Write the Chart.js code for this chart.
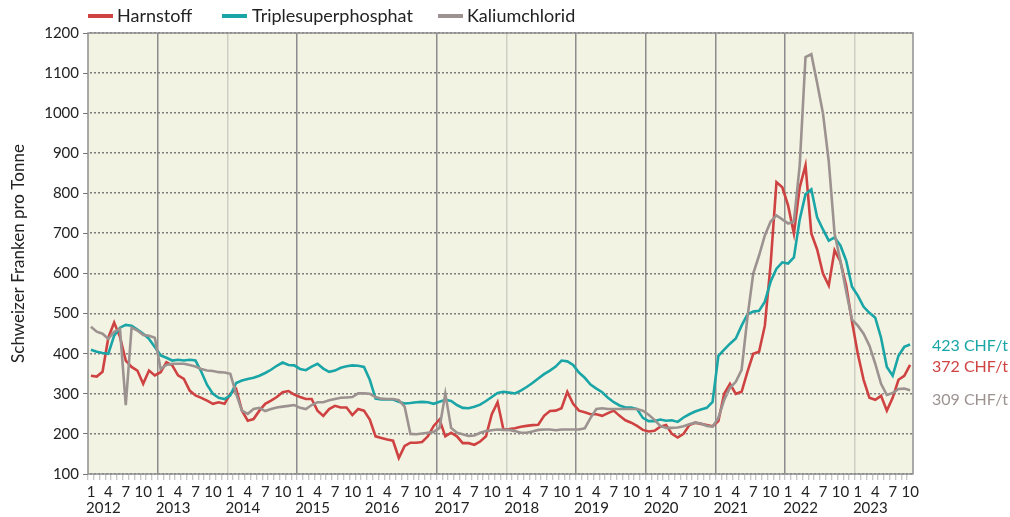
<!DOCTYPE html>
<html>
<head>
<meta charset="utf-8">
<script src="https://cdn.jsdelivr.net/npm/chart.js@4.4.1/dist/chart.umd.min.js"></script>
<style>
  html, body { margin: 0; padding: 0; background: #fff; }
  canvas { display: block; }
</style>
</head>
<body>
<canvas id="c" width="1010" height="517"></canvas>
<script>
  // ---- data (monthly, Jan 2012 .. Oct 2023, CHF per tonne) -------------
  var YEARS = [2012, 2013, 2014, 2015, 2016, 2017, 2018, 2019, 2020, 2021, 2022, 2023];
  var MONTH_LABELS = { 0: "1", 3: "4", 6: "7", 9: "10" };

  var HARNSTOFF = [
    345, 343, 355, 440, 478, 442, 383, 367, 358, 325, 358, 346,
    354, 379, 371, 346, 337, 308, 296, 290, 283, 275, 279, 275,
    300, 312, 258, 233, 237, 258, 275, 283, 292, 304, 307, 298,
    292, 287, 287, 258, 245, 262, 270, 266, 266, 247, 262, 258,
    236, 194, 190, 186, 183, 140, 170, 178, 178, 180, 194, 220,
    236, 194, 203, 194, 177, 177, 173, 181, 194, 249, 279, 211,
    212, 214, 218, 220, 222, 223, 245, 257, 258, 264, 305, 275,
    258, 254, 249, 249, 245, 252, 258, 245, 234, 228, 220, 210,
    206, 208, 218, 222, 200, 191, 200, 222, 228, 225, 222, 219,
    232, 300, 325, 300, 305, 355, 400, 405, 470, 625, 828, 815,
    770, 700, 815, 870, 700, 660, 600, 570, 658, 630, 570, 480,
    400, 335, 290, 285, 295, 258, 290, 335, 345, 372
  ];

  var TRIPLESUPER = [
    410, 405, 402, 400, 445, 465, 472, 470, 460, 450, 437, 417,
    396, 390, 383, 385, 383, 385, 383, 355, 322, 300, 290, 287,
    296, 327, 333, 337, 340, 345, 352, 360, 370, 378, 372, 371,
    362, 359, 368, 375, 363, 355, 358, 365, 369, 371, 370, 367,
    335, 288, 286, 286, 286, 280, 276, 277, 279, 280, 279, 275,
    280, 285, 282, 272, 265, 264, 268, 273, 282, 292, 302, 305,
    303, 301, 308, 317, 327, 338, 349, 358, 368, 383, 381, 372,
    353, 340, 323, 313, 304, 290, 279, 271, 266, 266, 262, 240,
    232, 232, 236, 233, 234, 230, 241, 249, 256, 261, 265, 280,
    395, 410, 425, 438, 470, 498, 505, 507, 530, 580, 612, 628,
    625, 640, 735, 798, 810, 740, 710, 682, 690, 670, 632, 567,
    545, 517, 502, 490, 440, 367, 345, 395, 417, 423
  ];

  var KALIUM = [
    467, 455, 450, 437, 455, 462, 272, 465, 458, 447, 445, 440,
    362, 372, 375, 375, 375, 372, 368, 362, 358, 357, 354, 353,
    350, 300, 258, 250, 262, 265, 257, 262, 266, 268, 270, 272,
    265, 262, 272, 279, 279, 284, 287, 290, 291, 292, 301, 301,
    300, 292, 288, 287, 287, 284, 268, 200, 199, 201, 203, 205,
    215, 300, 215, 203, 199, 195, 196, 203, 207, 209, 211, 210,
    210, 207, 203, 203, 206, 210, 211, 211, 209, 211, 211, 211,
    211, 214, 240, 262, 264, 262, 262, 262, 262, 262, 262, 258,
    248, 235, 220, 215, 215, 216, 219, 224, 228, 226, 220, 218,
    240, 285, 315, 330, 360, 490, 600, 645, 695, 730, 745, 735,
    725, 730, 870, 1140, 1147, 1075, 1000, 880, 700, 632, 555, 485,
    470, 450, 420, 375, 325, 297, 302, 312, 313, 309
  ];

  var SERIES_NAMES = ["Harnstoff", "Triplesuperphosphat", "Kaliumchlorid"];
  var END_LABELS = ["372 CHF/t", "423 CHF/t", "309 CHF/t"];

  // ---- styling ------------------------------------------------------------
  var COLORS = ["#cf4242", "#1aa5a6", "#9c9391"];
  var FONT = "Lato, 'Open Sans', sans-serif";
  var TEXT = "#222";
  var PLOT_BG = "#f3f3e3";
  var DARK_YEARS = [2013, 2015, 2017, 2019, 2020, 2021, 2022];
  var LIGHT_YEARS = [2014, 2018, 2023];

  function toPoints(arr) {
    return arr.map(function (v, i) { return { x: i + 0.5, y: v }; });
  }

  // ---- plugin: plot background, dotted value grid, frame, texts ----------
  var decor = {
    id: "decor",
    beforeDraw: function (chart) {
      var a = chart.chartArea, c = chart.ctx;
      c.save();
      c.fillStyle = PLOT_BG;
      c.fillRect(a.left, a.top, a.right - a.left, a.bottom - a.top);
      c.restore();
    },
    beforeDatasetsDraw: function (chart) {
      // dotted horizontal lines at each y tick of the value scale
      var a = chart.chartArea, c = chart.ctx, ys = chart.scales.y;
      c.save();
      c.fillStyle = "#7d7d7d";
      ys.ticks.forEach(function (t) {
        var py = Math.round(ys.getPixelForValue(t.value));
        for (var x = Math.round(a.left) + 2; x < a.right - 1; x += 4) {
          c.fillRect(x, py - 1, 2, 1.5);
        }
      });
      c.restore();
    },
    afterDraw: function (chart) {
      var a = chart.chartArea, c = chart.ctx, xs = chart.scales.x;
      c.save();
      // frame
      c.strokeStyle = "#8f8f8f";
      c.lineWidth = 1.5;
      c.strokeRect(a.left, a.top, a.right - a.left, a.bottom - a.top);

      // year labels under the month ticks
      c.fillStyle = TEXT;
      c.font = "15px " + FONT;
      c.textAlign = "left";
      c.textBaseline = "middle";
      YEARS.forEach(function (y, k) {
        c.fillText(String(y), xs.getPixelForValue(k * 12) - 2, 508);
      });

      // legend
      var legX = [[88, 117], [222, 252], [438, 467]];
      c.font = "18px " + FONT;
      c.lineWidth = 4;
      for (var i = 0; i < 3; i++) {
        c.strokeStyle = COLORS[i];
        c.beginPath();
        c.moveTo(legX[i][0], 16);
        c.lineTo(legX[i][0] + 25, 16);
        c.stroke();
        c.fillStyle = TEXT;
        c.fillText(SERIES_NAMES[i], legX[i][1], 16);
      }

      // last-value labels on the right
      var endY = [367, 346, 400];
      c.font = "16px " + FONT;
      for (var j = 0; j < 3; j++) {
        c.fillStyle = COLORS[j];
        c.fillText(END_LABELS[j], 932, endY[j]);
      }
      c.restore();
    }
  };

  var tickFont = { family: FONT, size: 15 };

  new Chart(document.getElementById("c").getContext("2d"), {
    type: "line",
    data: {
      datasets: [HARNSTOFF, TRIPLESUPER, KALIUM].map(function (arr, i) {
        return {
          label: SERIES_NAMES[i],
          data: toPoints(arr),
          borderColor: COLORS[i],
          backgroundColor: COLORS[i],
          borderWidth: 2.6,
          pointRadius: 0,
          tension: 0,
          fill: false
        };
      }).reverse()
    },
    options: {
      responsive: false,
      animation: false,
      layout: { padding: { top: 33, right: 97, bottom: 0, left: 0 } },
      plugins: { legend: { display: false }, tooltip: { enabled: false } },
      scales: {
        x: {
          type: "linear",
          min: 0,
          max: 142,
          afterBuildTicks: function (s) {
            var t = [];
            for (var i = 0; i <= 142; i++) t.push({ value: i });
            s.ticks = t;
          },
          afterFit: function (s) { s.height = 43; },
          ticks: {
            autoSkip: false,
            maxRotation: 0,
            padding: 3,
            labelOffset: 3,
            color: TEXT,
            font: tickFont,
            callback: function (v) {
              if (v >= 142) return "";
              var m = MONTH_LABELS[v % 12];
              return m ? m : "";
            }
          },
          grid: {
            lineWidth: 1.5,
            tickLength: 6,
            tickWidth: 1,
            tickColor: function (ctx) {
              var v = ctx.tick ? ctx.tick.value : 0;
              return v >= 142 ? "rgba(0,0,0,0)" : "#b4b4b4";
            },
            color: function (ctx) {
              var v = ctx.tick ? ctx.tick.value : 0;
              if (v % 12 !== 0 || v <= 0 || v >= 142) return "rgba(0,0,0,0)";
              var yr = 2012 + v / 12;
              if (DARK_YEARS.indexOf(yr) >= 0) return "#8c8c8c";
              if (LIGHT_YEARS.indexOf(yr) >= 0) return "#cfcfc4";
              return "rgba(0,0,0,0)";
            }
          },
          border: { display: false }
        },
        y: {
          min: 100,
          max: 1200,
          afterFit: function (s) { s.width = 88; },
          ticks: {
            stepSize: 100,
            padding: 4,
            color: TEXT,
            font: tickFont,
            callback: function (v) { return String(v); }
          },
          title: {
            display: true,
            text: "Schweizer Franken pro Tonne",
            color: TEXT,
            font: { family: FONT, size: 17 },
            padding: { top: 8, bottom: 0 }
          },
          grid: {
            drawOnChartArea: false,
            tickLength: 5,
            tickColor: "#777"
          },
          border: { display: false }
        }
      }
    },
    plugins: [decor]
  });
</script>
</body>
</html>
